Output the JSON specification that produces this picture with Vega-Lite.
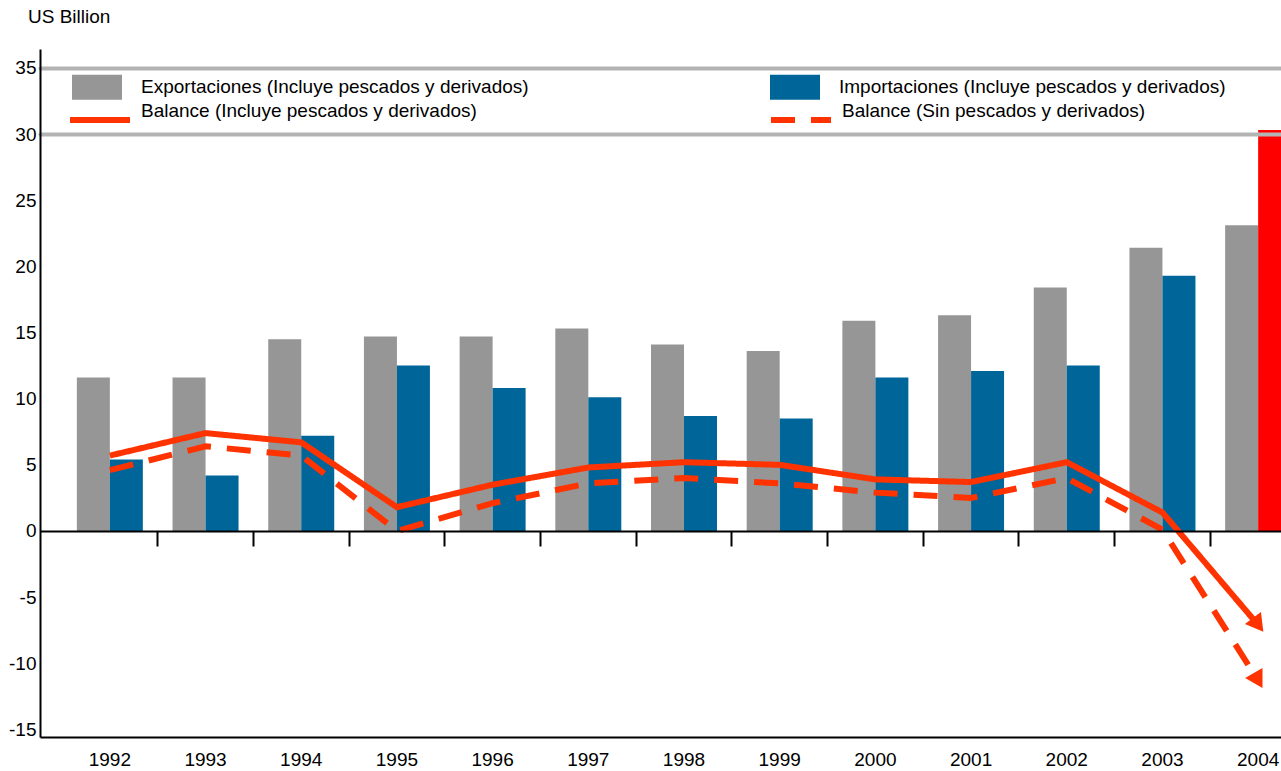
{
  "$schema": "https://vega.github.io/schema/vega-lite/v6.json",
  "width": 1241,
  "height": 688,
  "autosize": {"type": "none"},
  "padding": {"left": 40, "top": 49, "right": 0, "bottom": 34},
  "background": "white",
  "config": {
    "font": "Liberation Sans",
    "view": {"stroke": null},
    "axis": {"labelFont": "Liberation Sans", "labelColor": "black", "labelFontSize": 19}
  },
  "title": {"text": "US Billion", "anchor": "start", "frame": "group", "fontSize": 19, "fontWeight": "normal", "color": "black", "font": "Liberation Sans", "offset": 22, "dx": -12},
  "datasets": {
    "comercio": [
      {"year": 1992, "serie": "Exportaciones (Incluye pescados y derivados)", "value": 11.6},
      {"year": 1993, "serie": "Exportaciones (Incluye pescados y derivados)", "value": 11.6},
      {"year": 1994, "serie": "Exportaciones (Incluye pescados y derivados)", "value": 14.5},
      {"year": 1995, "serie": "Exportaciones (Incluye pescados y derivados)", "value": 14.7},
      {"year": 1996, "serie": "Exportaciones (Incluye pescados y derivados)", "value": 14.7},
      {"year": 1997, "serie": "Exportaciones (Incluye pescados y derivados)", "value": 15.3},
      {"year": 1998, "serie": "Exportaciones (Incluye pescados y derivados)", "value": 14.1},
      {"year": 1999, "serie": "Exportaciones (Incluye pescados y derivados)", "value": 13.6},
      {"year": 2000, "serie": "Exportaciones (Incluye pescados y derivados)", "value": 15.9},
      {"year": 2001, "serie": "Exportaciones (Incluye pescados y derivados)", "value": 16.3},
      {"year": 2002, "serie": "Exportaciones (Incluye pescados y derivados)", "value": 18.4},
      {"year": 2003, "serie": "Exportaciones (Incluye pescados y derivados)", "value": 21.4},
      {"year": 2004, "serie": "Exportaciones (Incluye pescados y derivados)", "value": 23.1},
      {"year": 1992, "serie": "Importaciones (Incluye pescados y derivados)", "value": 5.4},
      {"year": 1993, "serie": "Importaciones (Incluye pescados y derivados)", "value": 4.2},
      {"year": 1994, "serie": "Importaciones (Incluye pescados y derivados)", "value": 7.2},
      {"year": 1995, "serie": "Importaciones (Incluye pescados y derivados)", "value": 12.5},
      {"year": 1996, "serie": "Importaciones (Incluye pescados y derivados)", "value": 10.8},
      {"year": 1997, "serie": "Importaciones (Incluye pescados y derivados)", "value": 10.1},
      {"year": 1998, "serie": "Importaciones (Incluye pescados y derivados)", "value": 8.7},
      {"year": 1999, "serie": "Importaciones (Incluye pescados y derivados)", "value": 8.5},
      {"year": 2000, "serie": "Importaciones (Incluye pescados y derivados)", "value": 11.6},
      {"year": 2001, "serie": "Importaciones (Incluye pescados y derivados)", "value": 12.1},
      {"year": 2002, "serie": "Importaciones (Incluye pescados y derivados)", "value": 12.5},
      {"year": 2003, "serie": "Importaciones (Incluye pescados y derivados)", "value": 19.3},
      {"year": 2004, "serie": "Importaciones (Incluye pescados y derivados)", "value": 30.3}
    ],
    "balance": [
      {"year": 1992, "serie": "Balance (Incluye pescados y derivados)", "value": 5.7},
      {"year": 1993, "serie": "Balance (Incluye pescados y derivados)", "value": 7.4},
      {"year": 1994, "serie": "Balance (Incluye pescados y derivados)", "value": 6.7},
      {"year": 1995, "serie": "Balance (Incluye pescados y derivados)", "value": 1.8},
      {"year": 1996, "serie": "Balance (Incluye pescados y derivados)", "value": 3.5},
      {"year": 1997, "serie": "Balance (Incluye pescados y derivados)", "value": 4.8},
      {"year": 1998, "serie": "Balance (Incluye pescados y derivados)", "value": 5.2},
      {"year": 1999, "serie": "Balance (Incluye pescados y derivados)", "value": 5.0},
      {"year": 2000, "serie": "Balance (Incluye pescados y derivados)", "value": 3.9},
      {"year": 2001, "serie": "Balance (Incluye pescados y derivados)", "value": 3.7},
      {"year": 2002, "serie": "Balance (Incluye pescados y derivados)", "value": 5.2},
      {"year": 2003, "serie": "Balance (Incluye pescados y derivados)", "value": 1.4},
      {"year": 2004, "serie": "Balance (Incluye pescados y derivados)", "value": -7.1},
      {"year": 1992, "serie": "Balance (Sin pescados y derivados)", "value": 4.6},
      {"year": 1993, "serie": "Balance (Sin pescados y derivados)", "value": 6.4},
      {"year": 1994, "serie": "Balance (Sin pescados y derivados)", "value": 5.7},
      {"year": 1995, "serie": "Balance (Sin pescados y derivados)", "value": 0.0},
      {"year": 1996, "serie": "Balance (Sin pescados y derivados)", "value": 2.1},
      {"year": 1997, "serie": "Balance (Sin pescados y derivados)", "value": 3.6},
      {"year": 1998, "serie": "Balance (Sin pescados y derivados)", "value": 4.0},
      {"year": 1999, "serie": "Balance (Sin pescados y derivados)", "value": 3.6},
      {"year": 2000, "serie": "Balance (Sin pescados y derivados)", "value": 2.9},
      {"year": 2001, "serie": "Balance (Sin pescados y derivados)", "value": 2.5},
      {"year": 2002, "serie": "Balance (Sin pescados y derivados)", "value": 4.0},
      {"year": 2003, "serie": "Balance (Sin pescados y derivados)", "value": 0.1},
      {"year": 2004, "serie": "Balance (Sin pescados y derivados)", "value": -11.3}
    ]
  },
  "layer": [
    {
      "data": {"name": "comercio"},
      "mark": {"type": "bar"},
      "encoding": {
        "x": {
          "field": "year", "type": "ordinal",
          "scale": {"range": [0, 1288], "paddingOuter": 0.23, "paddingInner": 0},
          "axis": {"orient": "bottom", "title": null, "labelAngle": 0, "ticks": false, "tickSize": 0, "labelPadding": 13, "domainColor": "black", "domainWidth": 2, "grid": false}
        },
        "xOffset": {
          "field": "serie", "type": "nominal",
          "scale": {"domain": ["Exportaciones (Incluye pescados y derivados)", "Importaciones (Incluye pescados y derivados)"], "paddingOuter": 0.45, "paddingInner": 0}
        },
        "y": {
          "field": "value", "type": "quantitative",
          "scale": {"domain": [-15.57, 36.43], "nice": false, "zero": false},
          "axis": {
            "title": null, "values": [-15, -10, -5, 0, 5, 10, 15, 20, 25, 30, 35],
            "labelExpr": "'' + datum.value",
            "ticks": false, "tickSize": 0, "labelPadding": 4,
            "domainColor": "black", "domainWidth": 2,
            "grid": true, "gridColor": "#b3b3b3", "gridWidth": 4, "gridCap": "round",
            "gridOpacity": {"condition": {"test": "datum.value >= 30", "value": 1}, "value": 0},
            "zindex": 1
          }
        },
        "color": {
          "condition": {"test": "datum.year == 2004 && datum.serie == 'Importaciones (Incluye pescados y derivados)'", "value": "#ff0000"},
          "field": "serie", "type": "nominal",
          "scale": {"domain": ["Exportaciones (Incluye pescados y derivados)", "Importaciones (Incluye pescados y derivados)"], "range": ["#969696", "#006699"]},
          "legend": {
            "orient": "none", "legendX": 32, "legendY": 13, "title": null,
            "direction": "horizontal", "columns": 2, "columnPadding": 241, "padding": 0,
            "labelFontSize": 19, "labelFont": "Liberation Sans", "labelLimit": 0, "labelColor": "black",
            "labelOffset": 19, "symbolType": "M-1,-0.5H1V0.5H-1Z", "symbolSize": 2500,
            "symbolStrokeWidth": 0, "symbolOpacity": 1
          }
        }
      }
    },
    {
      "data": {"name": "balance"},
      "mark": {"type": "line", "strokeWidth": 6, "color": "#ff3300", "strokeCap": "butt", "strokeJoin": "miter"},
      "encoding": {
        "x": {
          "field": "year", "type": "ordinal",
          "axis": {
            "orient": "bottom", "offset": -206, "title": null, "labels": false,
            "ticks": true, "tickSize": 15, "tickWidth": 2, "tickColor": "black", "bandPosition": 0,
            "tickOpacity": {"condition": {"test": "datum.value == 1992", "value": 0}, "value": 1},
            "domainColor": "black", "domainWidth": 2, "grid": false, "zindex": 1
          }
        },
        "y": {"field": "value", "type": "quantitative"},
        "strokeDash": {
          "field": "serie", "type": "nominal",
          "scale": {"domain": ["Balance (Incluye pescados y derivados)", "Balance (Sin pescados y derivados)"], "range": [[1, 0], [24, 16]]},
          "legend": {
            "orient": "none", "legendX": 32, "legendY": 34, "title": null,
            "direction": "horizontal", "columns": 2, "columnPadding": 282, "padding": 0,
            "labelFontSize": 19, "labelFont": "Liberation Sans", "labelLimit": 0, "labelColor": "black",
            "labelOffset": 13, "symbolType": "M-1.2,0.35H1.2", "symbolSize": 2500,
            "symbolStrokeColor": "#ff3300", "symbolStrokeWidth": 6, "symbolFillColor": "transparent"
          }
        }
      }
    },
    {
      "data": {"name": "balance"},
      "transform": [{"filter": "datum.year == 2004"}],
      "mark": {"type": "point", "shape": "triangle-up", "filled": true, "size": 400, "color": "#ff3300", "opacity": 1, "strokeWidth": 0},
      "encoding": {
        "x": {"field": "year", "type": "ordinal", "axis": null},
        "y": {"field": "value", "type": "quantitative"},
        "angle": {"condition": {"test": "datum.serie == 'Balance (Sin pescados y derivados)'", "value": 150}, "value": 143}
      }
    }
  ],
  "resolve": {"axis": {"x": "independent"}}
}
